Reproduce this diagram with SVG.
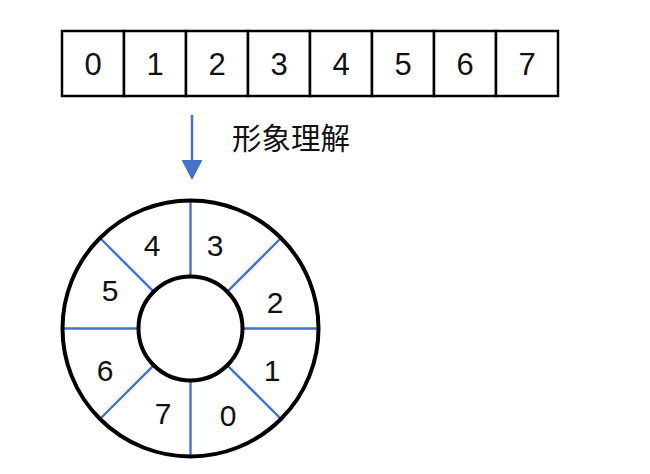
<svg xmlns="http://www.w3.org/2000/svg" width="650" height="474" viewBox="0 0 650 474">
<style>
.cell{fill:#fff;stroke:#000;stroke-width:2.5}
.num{font-family:"Liberation Sans",Arial,sans-serif;font-size:31px;fill:#111;text-anchor:middle;dominant-baseline:central}
.rn{font-size:30px}
.ring{fill:none;stroke:#000;stroke-width:4}
.spoke{stroke:#4472C4;stroke-width:2.4}
.lbl{font-family:"Liberation Sans","Noto Sans CJK SC",sans-serif;font-size:29.5px;fill:#111}
</style>
<rect width="650" height="474" fill="#fff"/>
<g id="array">
<g id="cell0"><rect class="cell" x="62" y="31" width="62" height="65"/><text class="num" x="93" y="64">0</text></g>
<g id="cell1"><rect class="cell" x="124" y="31" width="62" height="65"/><text class="num" x="155" y="64">1</text></g>
<g id="cell2"><rect class="cell" x="186" y="31" width="62" height="65"/><text class="num" x="217" y="64">2</text></g>
<g id="cell3"><rect class="cell" x="248" y="31" width="62" height="65"/><text class="num" x="279" y="64">3</text></g>
<g id="cell4"><rect class="cell" x="310" y="31" width="62" height="65"/><text class="num" x="341" y="64">4</text></g>
<g id="cell5"><rect class="cell" x="372" y="31" width="62" height="65"/><text class="num" x="403" y="64">5</text></g>
<g id="cell6"><rect class="cell" x="434" y="31" width="62" height="65"/><text class="num" x="465" y="64">6</text></g>
<g id="cell7"><rect class="cell" x="496" y="31" width="62" height="65"/><text class="num" x="527" y="64">7</text></g>
</g>
<g id="connectors">
<line x1="192" y1="115" x2="192" y2="162" stroke="#4472C4" stroke-width="2.5"/>
<polygon points="181.5,160 202.5,160 192,180" fill="#4472C4"/>
</g>
<g id="label"><text class="lbl" x="232" y="149">形象理解</text></g>
<g id="ringbuffer">
<line class="spoke" x1="190.5" y1="277" x2="190.5" y2="200"/>
<line class="spoke" x1="190.5" y1="380" x2="190.5" y2="457"/>
<line class="spoke" x1="139" y1="328.5" x2="63" y2="328.5"/>
<line class="spoke" x1="242" y1="328.5" x2="319" y2="328.5"/>
<line class="spoke" x1="227.1" y1="291.9" x2="281" y2="238"/>
<line class="spoke" x1="153.9" y1="291.9" x2="100" y2="238"/>
<line class="spoke" x1="227.1" y1="365.1" x2="281" y2="419"/>
<line class="spoke" x1="153.9" y1="365.1" x2="100" y2="419"/>
<circle class="ring" cx="190.5" cy="328.5" r="128"/>
<circle class="ring" cx="190.5" cy="328.5" r="52"/>
<text class="num rn" x="215" y="245">3</text>
<text class="num rn" x="152" y="245">4</text>
<text class="num rn" x="110" y="290">5</text>
<text class="num rn" x="275" y="302">2</text>
<text class="num rn" x="272" y="370">1</text>
<text class="num rn" x="105" y="370">6</text>
<text class="num rn" x="163" y="413">7</text>
<text class="num rn" x="228" y="415">0</text>
</g>
</svg>
